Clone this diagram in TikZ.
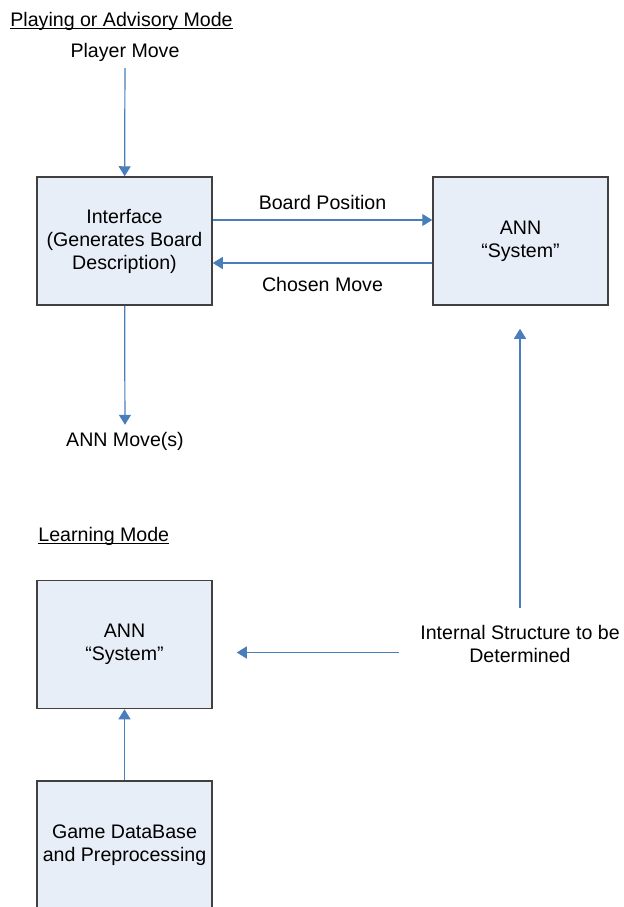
\documentclass[tikz,border=0pt]{standalone}
\usepackage{fontspec}
\setmainfont{Liberation Sans}
\usetikzlibrary{arrows.meta}
\definecolor{boxfill}{HTML}{E8EEF7}
\definecolor{boxline}{HTML}{404040}
\definecolor{linkblue}{HTML}{4A7EBB}

\begin{document}
\begin{tikzpicture}[x=0.5pt, y=-0.5pt,
    every node/.style={font=\fontsize{9.8pt}{11.5pt}\selectfont, align=center},
    box/.style={rectangle, draw=boxline, line width=0.75pt, fill=boxfill,
                minimum width=87.5pt, minimum height=64pt, inner sep=0pt},
    link/.style={draw=linkblue, line width=0.6pt, -{Triangle[length=5pt,width=6pt]}}]
    \clip (0,0) rectangle (624,907);

    % playing / advisory mode
    \node[anchor=base west, inner sep=0pt] (hdrplay) at (10,26) {\underline{\smash{Playing or Advisory Mode}}};
    \node (pmove) at (125,52) {Player Move};
    \node[box] (iface) at (124.5,241) {Interface\\(Generates Board\\Description)};
    \node[box] (annA) at (520.5,241) {ANN\\“System”};
    \node (annmove) at (125,441) {ANN Move(s)};

    \draw[link] (pmove) -- (iface);
    \draw[link] (iface) -- (annmove);
    \draw[link] ([yshift=10.5pt]iface.east) -- ([yshift=10.5pt]annA.west)
        node[midway, above=1.5pt] (bpos) {Board Position};
    \draw[link] ([yshift=-11pt]annA.west) -- ([yshift=-11pt]iface.east)
        node[midway, below=3.5pt] (cmove) {Chosen Move};

    % learning mode
    \node[anchor=base west, inner sep=0pt] (hdrlearn) at (38,541) {\underline{\smash{Learning Mode}}};
    \node[box] (annB) at (124.5,644.5) {ANN\\“System”};
    \node[box] (gamedb) at (124.5,845) {Game DataBase\\and Preprocessing};
    \node (isd) at (520,643.5) {Internal Structure to be\\Determined};

    \draw[link] (gamedb) -- (annB);
    \draw[link, shorten <=7pt, shorten >=12pt] ([yshift=-4.5pt]isd.west) -- ([yshift=-4.5pt]isd.west -| annB.east);
    \draw[link, shorten <=5pt, shorten >=11.5pt] (isd.north) -- (isd.north |- annA.south);
\end{tikzpicture}
\end{document}
